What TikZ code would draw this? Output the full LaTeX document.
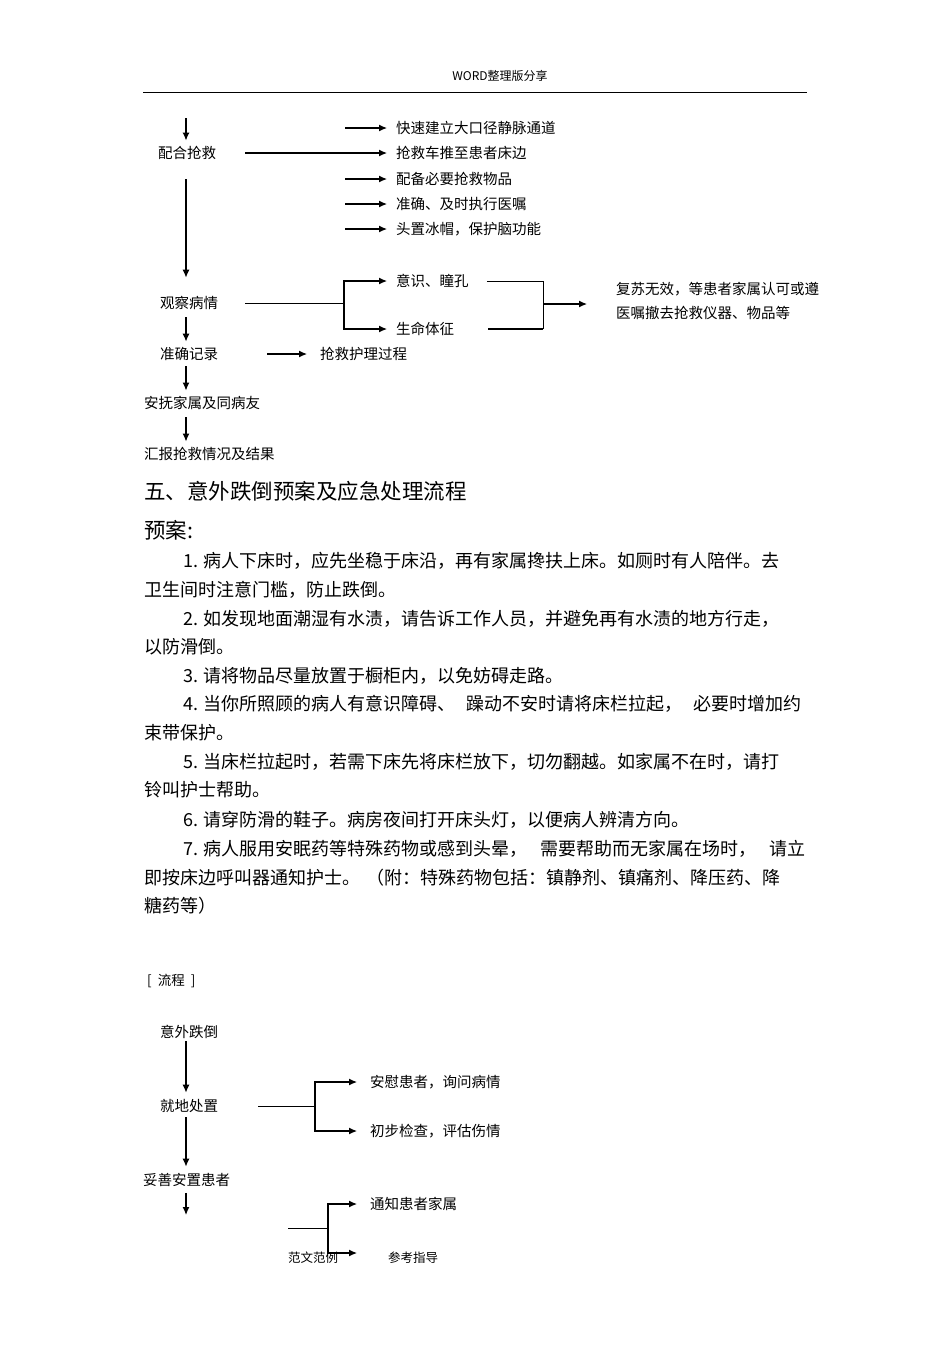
\documentclass[tikz,border=0pt]{standalone}
\usepackage{fontspec}
\setmainfont{Noto Sans CJK SC}
\usetikzlibrary{arrows.meta}
\tikzset{>={Latex[length=8pt,width=7pt]}}
\tikzset{flowtext/.style = {anchor=west,inner sep=0pt,font=\fontsize{14.5}{14.5}\selectfont}}
\tikzset{marktext/.style = {anchor=west,inner sep=0pt,font=\fontsize{12.5}{12.5}\selectfont}}
\tikzset{bodytext/.style = {anchor=west,inner sep=0pt,font=\fontsize{18}{18}\selectfont}}
\tikzset{titletext/.style = {anchor=west,inner sep=0pt,font=\fontsize{21.5}{21.5}\selectfont}}
\tikzset{link/.style = {line width=1.2pt}}
\tikzset{thinlink/.style = {line width=0.9pt}}
\tikzset{arr/.style = {link,->}}

\begin{document}
\begin{tikzpicture}[x=1pt,y=-1pt]
                \useasboundingbox (0,0) rectangle (950,1345);

                % page head
                \node[marktext,anchor=center,font=\fontsize{12}{12}\selectfont] (head) at (500,76) {WORD整理版分享};
                \coordinate (rulel) at (143,92);
                \coordinate (ruler) at (807,92);
                \draw[line width=0.8pt] (rulel) -- (ruler);

                % rescue flow
                \coordinate (spine) at (186,118);
                \node[flowtext] (peihe) at (158,153) {配合抢救};
                \node[flowtext] (guancha) at (160,303) {观察病情};
                \node[flowtext] (jilu) at (160,354) {准确记录};
                \node[flowtext] (anfu) at (144,403) {安抚家属及同病友};
                \node[flowtext] (huibao) at (144,454) {汇报抢救情况及结果};

                \node[flowtext] (kuaisu) at (396,128) {快速建立大口径静脉通道};
                \node[flowtext] (tuiche) at (396,153) {抢救车推至患者床边};
                \node[flowtext] (peibei) at (396,179) {配备必要抢救物品};
                \node[flowtext] (yizhu) at (396,204) {准确、及时执行医嘱};
                \node[flowtext] (bingmao) at (396,229) {头置冰帽，保护脑功能};

                \node[flowtext] (yishi) at (396,281) {意识、瞳孔};
                \node[flowtext] (tizheng) at (396,329) {生命体征};
                \node[flowtext,align=left,font=\fontsize{14.5}{24}\selectfont] (fusu) at (616,301) {复苏无效，等患者家属认可或遵\\医嘱撤去抢救仪器、物品等};
                \node[flowtext] (guocheng) at (320,354) {抢救护理过程};

                \coordinate (s1) at (345,128);
                \coordinate (s3) at (345,179);
                \coordinate (s4) at (345,204);
                \coordinate (s5) at (345,229);
                \coordinate (fork) at (344,303);
                \coordinate (join) at (543,304);

                \draw[arr,shorten >=5.5pt] (spine) -- (peihe.north -| spine);
                \draw[arr,shorten <=19.5pt,shorten >=18.5pt] (peihe.south -| spine) -- (guancha.north -| spine);
                \draw[arr,shorten <=7.5pt,shorten >=5.5pt] (guancha.south -| spine) -- (jilu.north -| spine);
                \draw[arr,shorten <=5.5pt,shorten >=5.5pt] (jilu.south -| spine) -- (anfu.north -| spine);
                \draw[arr,shorten <=7.5pt,shorten >=5.5pt] (anfu.south -| spine) -- (huibao.north -| spine);

                \draw[arr,shorten <=29pt,shorten >=9pt] (peihe) -- (tuiche);
                \draw[arr,shorten >=9pt] (s1) -- (kuaisu.west);
                \draw[arr,shorten >=9pt] (s3) -- (peibei.west);
                \draw[arr,shorten >=9pt] (s4) -- (yizhu.west);
                \draw[arr,shorten >=9pt] (s5) -- (bingmao.west);

                \draw[thinlink,shorten <=27pt] (guancha.east) -- (fork);
                \draw[arr,shorten >=9pt] (fork) |- (yishi.west);
                \draw[arr,shorten >=9pt] (fork) |- (tizheng.west);
                \draw[thinlink,shorten <=18pt] (yishi.east) -| (tizheng.east -| join);
                \draw[link,line width=2pt,shorten <=34pt] (tizheng.east) -- (tizheng.east -| join);
                \draw[arr,shorten >=29pt] (join) -- (join -| fusu.west);
                \draw[arr,shorten <=49pt,shorten >=13pt] (jilu) -- (guocheng);

                % plan text
                \node[titletext] (wu) at (144,491) {五、意外跌倒预案及应急处理流程};
                \node[titletext] (yuan) at (144,530) {预案:};
                \node[bodytext] (l1) at (183,561) {1. 病人下床时，应先坐稳于床沿，再有家属搀扶上床。如厕时有人陪伴。去};
                \node[bodytext] (l2) at (144,590) {卫生间时注意门槛，防止跌倒。};
                \node[bodytext] (l3) at (183,619) {2. 如发现地面潮湿有水渍，请告诉工作人员，并避免再有水渍的地方行走，};
                \node[bodytext] (l4) at (144,647) {以防滑倒。};
                \node[bodytext] (l5) at (183,676) {3. 请将物品尽量放置于橱柜内，以免妨碍走路。};
                \node[bodytext] (l6) at (183,704) {4. 当你所照顾的病人有意识障碍、\hspace{11pt}躁动不安时请将床栏拉起，\hspace{11pt}必要时增加约};
                \node[bodytext] (l7) at (144,733) {束带保护。};
                \node[bodytext] (l8) at (183,762) {5. 当床栏拉起时，若需下床先将床栏放下，切勿翻越。如家属不在时，请打};
                \node[bodytext] (l9) at (144,790) {铃叫护士帮助。};
                \node[bodytext] (l10) at (183,820) {6. 请穿防滑的鞋子。病房夜间打开床头灯，以便病人辨清方向。};
                \node[bodytext] (l11) at (183,849) {7. 病人服用安眠药等特殊药物或感到头晕，\hspace{13pt}需要帮助而无家属在场时，\hspace{13pt}请立};
                \node[bodytext] (l12) at (144,878) {即按床边呼叫器通知护士。\hspace{6pt}（附：特殊药物包括：镇静剂、镇痛剂、降压药、降};
                \node[bodytext] (l13) at (144,906) {糖药等）};

                % fall flow
                \node[marktext,font=\fontsize{13.5}{13.5}\selectfont] (liucheng) at (147,981) {[\hspace{6pt}流程\hspace{6pt}]};
                \coordinate (spinetwo) at (186,1042);
                \node[flowtext] (yiwai) at (160,1032) {意外跌倒};
                \node[flowtext] (jiudi) at (160,1106) {就地处置};
                \node[flowtext] (tuoshan) at (143,1180) {妥善安置患者};
                \node[flowtext] (anwei) at (370,1082) {安慰患者，询问病情};
                \node[flowtext] (chubu) at (370,1131) {初步检查，评估伤情};
                \node[flowtext] (tongzhi) at (370,1204) {通知患者家属};
                \node[marktext] (fanwen) at (288,1258) {范文范例};
                \node[marktext] (cankao) at (388,1258) {参考指导};

                \coordinate (forktwo) at (315,1106);
                \coordinate (down) at (186,1215);
                \coordinate (stub) at (288,1228);
                \coordinate (forkthree) at (328,1228);
                \coordinate (lowend) at (357,1253);

                \draw[arr,shorten <=2.5pt,shorten >=6.5pt] (yiwai.south -| spinetwo) -- (jiudi.north -| spinetwo);
                \draw[arr,shorten <=4.5pt,shorten >=6.5pt] (jiudi.south -| spinetwo) -- (tuoshan.north -| spinetwo);
                \draw[arr,shorten <=6pt] (tuoshan.south -| down) -- (down);

                \draw[thinlink,shorten <=40pt] (jiudi.east) -- (forktwo);
                \draw[arr,shorten >=13pt] (forktwo) |- (anwei.west);
                \draw[arr,shorten >=13pt] (forktwo) |- (chubu.west);

                \draw[thinlink] (stub) -- (forkthree);
                \draw[arr,shorten >=13pt] (forkthree) |- (tongzhi.west);
                \draw[arr] (forkthree) |- (lowend);
            \end{tikzpicture}
\end{document}
